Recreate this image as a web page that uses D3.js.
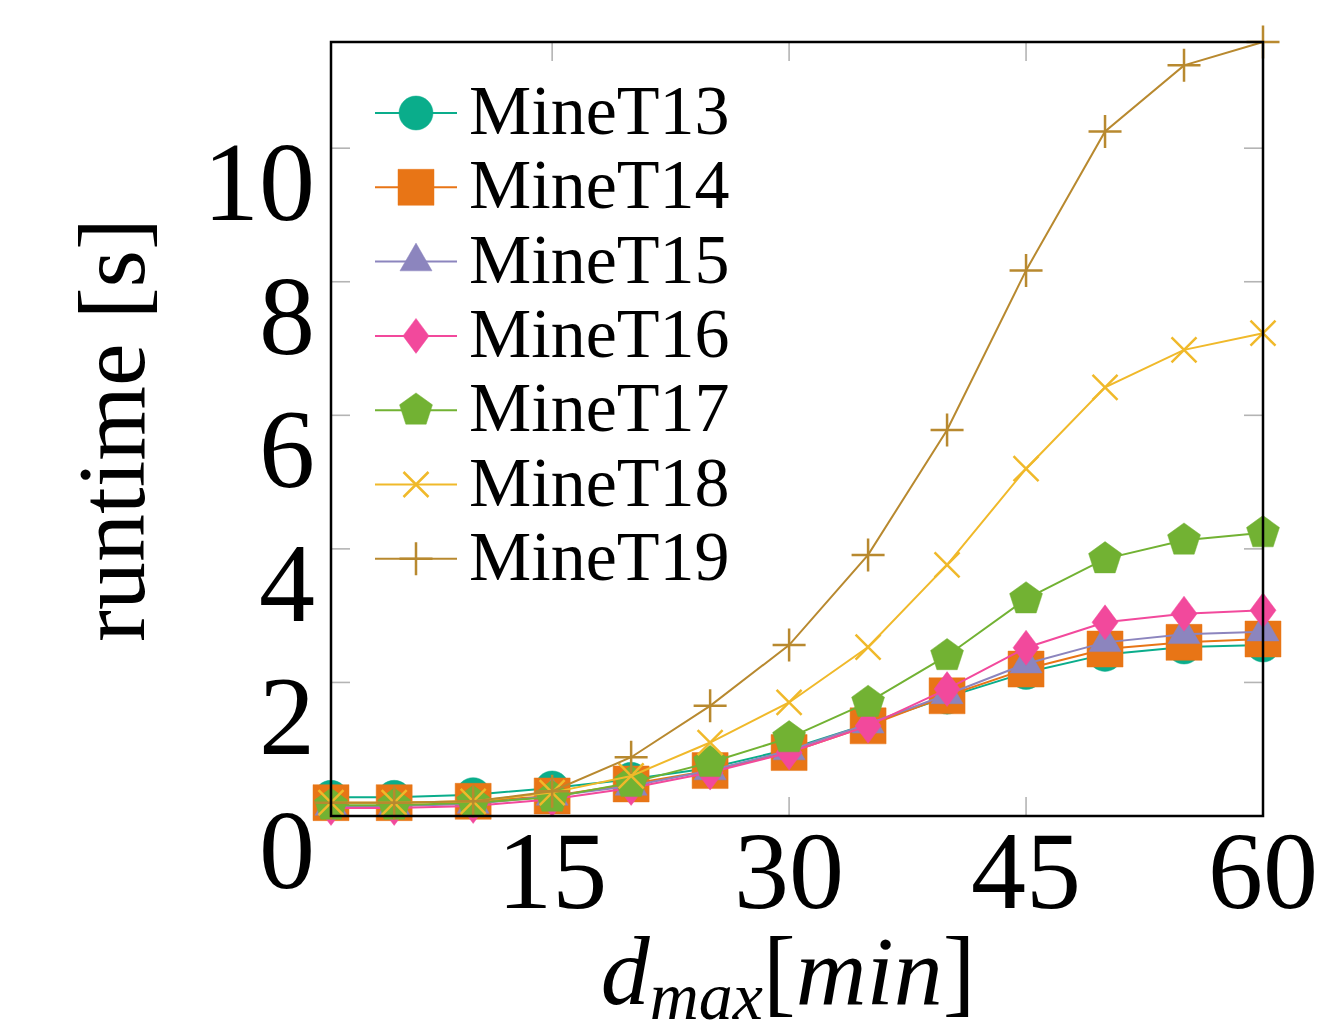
<!DOCTYPE html>
<html>
<head>
<meta charset="utf-8">
<script src="https://cdn.jsdelivr.net/npm/d3@7/dist/d3.min.js"></script>
<style>
  body { margin: 0; background: #fff; }
  text { font-family: "Liberation Serif", "Times New Roman", serif; fill: #000; }
</style>
</head>
<body>
<div id="chart"></div>
<script>
// runtime vs d_max for the MineT13..MineT19 data sets

var dMax = [1, 5, 10, 15, 20, 25, 30, 35, 40, 45, 50, 55, 60];

var mineT13 = [0.28, 0.28, 0.32, 0.42, 0.55, 0.72, 1.00, 1.38, 1.78, 2.15, 2.42, 2.53, 2.56];
var mineT14 = [0.20, 0.20, 0.22, 0.30, 0.48, 0.68, 0.95, 1.35, 1.80, 2.20, 2.50, 2.60, 2.65];
var mineT15 = [0.15, 0.15, 0.18, 0.30, 0.45, 0.68, 0.98, 1.38, 1.82, 2.28, 2.60, 2.72, 2.76];
var mineT16 = [0.12, 0.12, 0.15, 0.25, 0.42, 0.65, 0.95, 1.35, 1.90, 2.52, 2.90, 3.03, 3.08];
var mineT17 = [0.16, 0.16, 0.20, 0.28, 0.50, 0.80, 1.17, 1.70, 2.40, 3.25, 3.85, 4.13, 4.24];
var mineT18 = [0.20, 0.20, 0.22, 0.35, 0.60, 1.10, 1.70, 2.53, 3.76, 5.20, 6.42, 6.98, 7.23];
var mineT19 = [0.20, 0.20, 0.22, 0.37, 0.88, 1.65, 2.56, 3.91, 5.78, 8.17, 10.25, 11.24, 11.59];

var seriesNames = ["MineT13", "MineT14", "MineT15", "MineT16", "MineT17", "MineT18", "MineT19"];
var seriesValues = [mineT13, mineT14, mineT15, mineT16, mineT17, mineT18, mineT19];
var seriesColors = ["#0aad8b", "#e87516", "#8c85be", "#f2499c", "#72b233", "#f0b92a", "#b8892f"];
var seriesMarks = ["circle", "square", "triangle", "diamond", "pentagon", "cross", "plus"];

var xTicks = [15, 30, 45, 60];
var yTicks = [0, 2, 4, 6, 8, 10];

var svgWidth = 1336;
var svgHeight = 1034;

var margin = { top: 42, right: 73, bottom: 218, left: 331 };
var width = svgWidth - margin.left - margin.right;
var height = svgHeight - margin.top - margin.bottom;

var svg = d3.select("#chart")
    .append("svg")
    .attr("width", svgWidth)
    .attr("height", svgHeight);

var chartGroup = svg.append("g")
    .attr("transform", `translate(${margin.left}, ${margin.top})`);

var xScale = d3.scaleLinear().domain([1, 60]).range([0, width]);
var yScale = d3.scaleLinear().domain([0, 11.59]).range([height, 0]);

// marker path strings, centred on 0,0
function markPath(type) {
    if (type === "circle") return d3.symbol(d3.symbolCircle, Math.PI * 17 * 17)();
    if (type === "square") return "M-18,-18H18V18H-18Z";
    if (type === "triangle") {
        var R = 18.5;
        return `M0,${-R}L${R * Math.sin(Math.PI / 3)},${R / 2}L${-R * Math.sin(Math.PI / 3)},${R / 2}Z`;
    }
    if (type === "diamond") return "M0,-17.5L13,0L0,17.5L-13,0Z";
    if (type === "pentagon") {
        var pts = d3.range(5).map(function(i) {
            var a = -Math.PI / 2 + i * 2 * Math.PI / 5;
            return [17.3 * Math.cos(a), 17.3 * Math.sin(a)];
        });
        return "M" + pts.map(p => p.join(",")).join("L") + "Z";
    }
    if (type === "cross") return "M-12.5,-12.5L12.5,12.5M-12.5,12.5L12.5,-12.5";
    if (type === "plus") return "M-16.5,0H16.5M0,-16.5V16.5";
}

function drawMark(g, type, color) {
    var open = (type === "cross" || type === "plus");
    g.append("path")
        .attr("d", markPath(type))
        .attr("fill", open ? "none" : color)
        .attr("stroke", color)
        .attr("stroke-width", open ? 2.5 : 0.8)
        .attr("stroke-opacity", open ? 1 : 0.6);
}

// inner grey ticks on all four sides
var tickColor = "#b4b4b4";
var tickLen = 19;
xTicks.forEach(function(t) {
    chartGroup.append("line")
        .attr("x1", xScale(t)).attr("x2", xScale(t))
        .attr("y1", height).attr("y2", height - tickLen)
        .attr("stroke", tickColor).attr("stroke-width", 1.6);
    chartGroup.append("line")
        .attr("x1", xScale(t)).attr("x2", xScale(t))
        .attr("y1", 0).attr("y2", tickLen)
        .attr("stroke", tickColor).attr("stroke-width", 1.6);
});
yTicks.forEach(function(t) {
    chartGroup.append("line")
        .attr("x1", 0).attr("x2", tickLen)
        .attr("y1", yScale(t)).attr("y2", yScale(t))
        .attr("stroke", tickColor).attr("stroke-width", 1.6);
    chartGroup.append("line")
        .attr("x1", width).attr("x2", width - tickLen)
        .attr("y1", yScale(t)).attr("y2", yScale(t))
        .attr("stroke", tickColor).attr("stroke-width", 1.6);
});

// tick labels
chartGroup.selectAll(".xlab")
    .data(xTicks)
    .enter()
    .append("text")
    .attr("x", d => xScale(d))
    .attr("y", height + 92)
    .attr("text-anchor", "middle")
    .attr("font-size", 110)
    .text(d => d);

chartGroup.selectAll(".ylab")
    .data(yTicks)
    .enter()
    .append("text")
    .attr("x", -16)
    .attr("y", d => yScale(d) + 72)
    .attr("text-anchor", "end")
    .attr("font-size", 112)
    .text(d => d);

// data lines + markers, one series after another
var line = d3.line()
    .x((d, i) => xScale(dMax[i]))
    .y(d => yScale(d));

seriesValues.forEach(function(vals, s) {
    var g = chartGroup.append("g");
    g.append("path")
        .attr("d", line(vals))
        .attr("fill", "none")
        .attr("stroke", seriesColors[s])
        .attr("stroke-width", 2);
    vals.forEach(function(v, i) {
        var mg = g.append("g")
            .attr("transform", `translate(${xScale(dMax[i])}, ${yScale(v)})`);
        drawMark(mg, seriesMarks[s], seriesColors[s]);
    });
});

// frame
chartGroup.append("rect")
    .attr("width", width)
    .attr("height", height)
    .attr("fill", "none")
    .attr("stroke", "#000")
    .attr("stroke-width", 2.5);

// legend
var legend = svg.append("g").attr("transform", "translate(375, 113)");
seriesNames.forEach(function(name, i) {
    var row = legend.append("g").attr("transform", `translate(0, ${i * 74.3})`);
    row.append("line")
        .attr("x1", 0).attr("x2", 82)
        .attr("stroke", seriesColors[i])
        .attr("stroke-width", 2);
    var mg = row.append("g").attr("transform", "translate(41, 0)");
    drawMark(mg, seriesMarks[i], seriesColors[i]);
    row.append("text")
        .attr("x", 94)
        .attr("y", 21)
        .attr("font-size", 70)
        .text(name);
});

// axis titles
svg.append("text")
    .attr("transform", "translate(144, 430) rotate(-90)")
    .attr("text-anchor", "middle")
    .attr("font-size", 96)
    .text("runtime [s]");

var xTitle = svg.append("text")
    .attr("x", 788)
    .attr("y", 1004)
    .attr("text-anchor", "middle")
    .attr("font-size", 98);
xTitle.append("tspan").attr("font-style", "italic").text("d");
xTitle.append("tspan").attr("font-style", "italic").attr("font-size", 68).attr("dy", 15).text("max");
xTitle.append("tspan").attr("dy", -15).text("[");
xTitle.append("tspan").attr("font-style", "italic").text("min");
xTitle.append("tspan").text("]");
</script>
</body>
</html>
